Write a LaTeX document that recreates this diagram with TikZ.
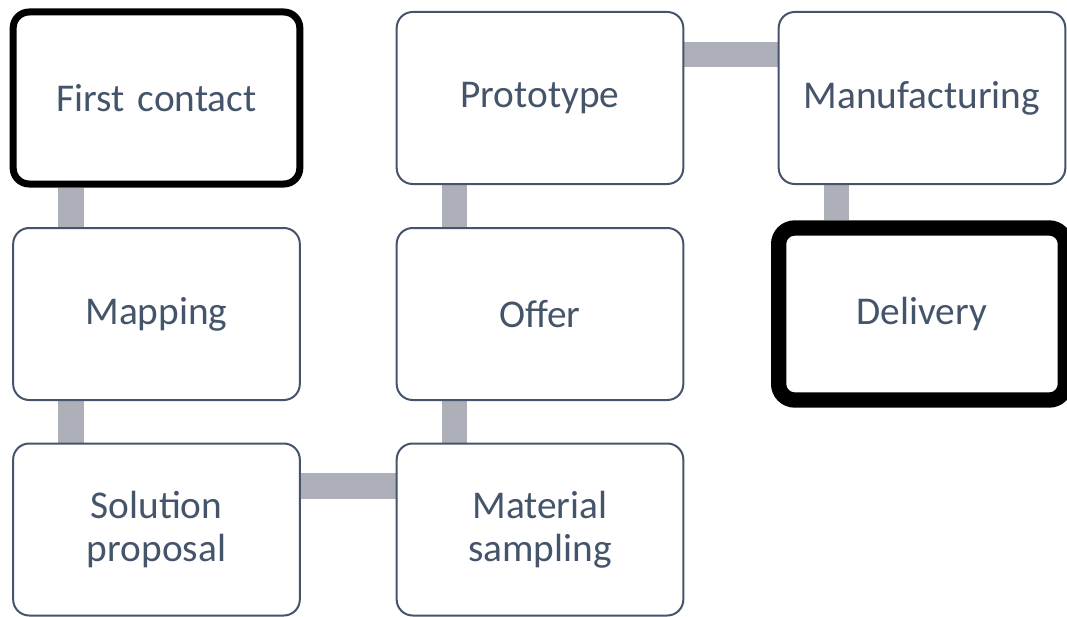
\documentclass[tikz,border=0pt]{standalone}
\usepackage{fontspec}
\setmainfont{Carlito}
\usetikzlibrary{backgrounds, calc}
\definecolor{stageInk} {HTML}{44546A}
\definecolor{stageLink}{HTML}{ADB0B8}
\tikzset{
  stage/.style = {rectangle, rounded corners=12pt, draw=stageInk,
                  line width=1.5pt, fill=white, minimum width=215pt,
                  minimum height=129pt, text width=205pt, align=center,
                  text=stageInk, font=\fontsize{29.5}{32.5}\selectfont},
  milestone/.style = {stage, draw=black, line width=5.25pt},
  link/.style = {draw=stageLink, line width=19pt},
}

\begin{document}
\begin{tikzpicture}[x=0.75pt, y=-0.75pt]
\useasboundingbox (0,0) rectangle (1067,617);

% Stages, column by column
\node[milestone] (first)    at (156.5,98)    {First contact};
\node[stage]     (mapping)  at (156.5,314)   {Mapping};
\node[stage]     (solution) at (156.5,529.5) {Solution\\proposal};
\node[stage]     (sampling) at (540,529.5)   {Material\\sampling};
\node[stage]     (offer)    at (540,314)     {Offer};
\node[stage]     (proto)    at (540,98)      {Prototype};
\node[stage]     (manuf)    at (922,98)      {Manufacturing};
\node[milestone, line width=11.5pt] (delivery) at (922,314) {Delivery};

% Links behind the boxes
\begin{scope}[on background layer]
\draw[link] ($(first.south)+(-85.5,0)$)    -- ($(mapping.north)+(-85.5,0)$);
\draw[link] ($(mapping.south)+(-85.5,0)$)  -- ($(solution.north)+(-85.5,0)$);
\draw[link] ($(solution.east)+(0,-43.5)$)  -- ($(sampling.west)+(0,-43.5)$);
\draw[link] ($(sampling.north)+(-85.5,0)$) -- ($(offer.south)+(-85.5,0)$);
\draw[link] ($(offer.north)+(-85.5,0)$)    -- ($(proto.south)+(-85.5,0)$);
\draw[link] ($(proto.east)+(0,-43.5)$)     -- ($(manuf.west)+(0,-43.5)$);
\draw[link] ($(manuf.south)+(-85.5,0)$)    -- ($(delivery.north)+(-85.5,0)$);
\end{scope}

\end{tikzpicture}
\end{document}
